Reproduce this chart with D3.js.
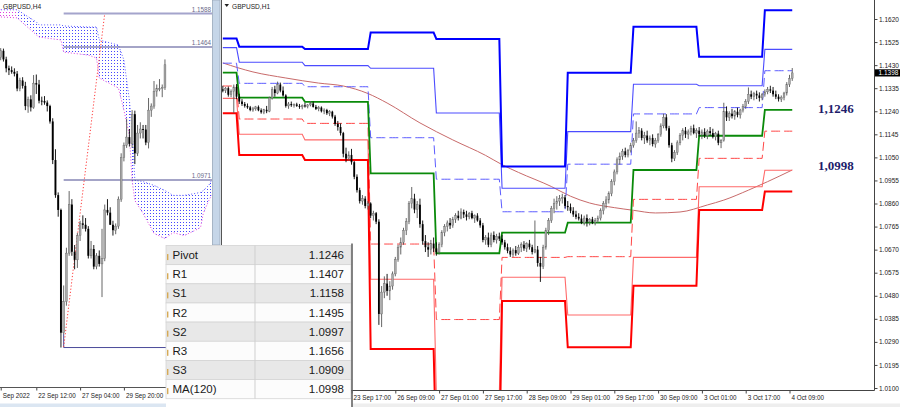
<!DOCTYPE html>
<html><head><meta charset="utf-8">
<script src="https://cdn.jsdelivr.net/npm/d3@7"></script>
<style>
html,body{margin:0;padding:0;background:#fff;}
svg{display:block;font-family:"Liberation Sans",Arial,sans-serif;}
</style></head><body>
<svg id="c" width="900" height="407"></svg>
<script>
// ---------------- DATA ----------------
// H1 candles, bar index -47 .. 161 (bar 0 = 23 Sep 17:00)
const h1Start = -47;
const h1Open = [1.1330,1.1325,1.1335,1.1308,1.1322,1.1340,1.1300,1.1280,1.1270,1.1262,1.1256,1.1245,1.1250,1.1258,1.1244,1.1236,1.1246,1.1240,1.1295,1.1330,1.1315,1.1350,1.1325,1.1305,1.1262,1.1270,1.1265,1.1268,1.1262,1.1258,1.1264,1.1260,1.1266,1.1272,1.1258,1.1250,1.1255,1.1240,1.1245,1.1232,1.1238,1.1218,1.1188,1.1175,1.1150,1.1065,1.1045,1.1060,1.1030,1.0970,1.0915,1.0870,1.0880,1.0850,1.0860,1.0810,1.0820,1.0785,1.0405,1.0495,1.0530,1.0500,1.0520,1.0570,1.0630,1.0680,1.0700,1.0750,1.0785,1.0860,1.0880,1.0835,1.0855,1.0775,1.0705,1.0680,1.0670,1.0695,1.0675,1.0660,1.0690,1.0740,1.0765,1.0780,1.0770,1.0795,1.0810,1.0800,1.0825,1.0815,1.0805,1.0820,1.0800,1.0810,1.0790,1.0770,1.0710,1.0720,1.0690,1.0730,1.0710,1.0725,1.0715,1.0700,1.0680,1.0665,1.0650,1.0668,1.0655,1.0680,1.0690,1.0675,1.0695,1.0680,1.0660,1.0670,1.0615,1.0600,1.0680,1.0750,1.0790,1.0840,1.0860,1.0870,1.0880,1.0885,1.0850,1.0845,1.0830,1.0815,1.0805,1.0798,1.0780,1.0800,1.0785,1.0795,1.0782,1.0790,1.0800,1.0830,1.0860,1.0875,1.0900,1.0950,1.0990,1.1040,1.1055,1.1075,1.1060,1.1078,1.1100,1.1120,1.1150,1.1160,1.1130,1.1140,1.1120,1.1130,1.1105,1.1120,1.1145,1.1180,1.1215,1.1170,1.1100,1.1045,1.1070,1.1110,1.1140,1.1160,1.1145,1.1155,1.1170,1.1150,1.1160,1.1145,1.1155,1.1140,1.1158,1.1150,1.1135,1.1148,1.1110,1.1120,1.1240,1.1215,1.1230,1.1220,1.1238,1.1225,1.1245,1.1260,1.1280,1.1310,1.1300,1.1312,1.1305,1.1295,1.1310,1.1320,1.1330,1.1325,1.1310,1.1300,1.1290,1.1298,1.1315,1.1350,1.1375];
const h1High = [1.1345,1.1340,1.1342,1.1330,1.1350,1.1352,1.1312,1.1290,1.1278,1.1272,1.1262,1.1258,1.1262,1.1264,1.1252,1.1250,1.1262,1.1300,1.1340,1.1345,1.1362,1.1358,1.1342,1.1310,1.1278,1.1280,1.1272,1.1275,1.1270,1.1268,1.1275,1.1270,1.1282,1.1280,1.1266,1.1262,1.1260,1.1252,1.1250,1.1245,1.1242,1.1225,1.1200,1.1190,1.1155,1.1090,1.1075,1.1085,1.1035,1.0980,1.0925,1.0895,1.0890,1.0870,1.0865,1.0830,1.0825,1.0795,1.0520,1.0560,1.0570,1.0540,1.0580,1.0640,1.0690,1.0720,1.0760,1.0800,1.0870,1.0928,1.0900,1.0870,1.0880,1.0790,1.0730,1.0700,1.0710,1.0720,1.0700,1.0700,1.0750,1.0775,1.0790,1.0800,1.0805,1.0820,1.0830,1.0840,1.0835,1.0830,1.0825,1.0830,1.0815,1.0820,1.0800,1.0780,1.0730,1.0740,1.0740,1.0745,1.0735,1.0740,1.0730,1.0710,1.0695,1.0680,1.0675,1.0685,1.0690,1.0700,1.0705,1.0700,1.0710,1.0690,1.0790,1.0685,1.0640,1.0690,1.0760,1.0800,1.0850,1.0880,1.0890,1.0895,1.0900,1.0895,1.0870,1.0860,1.0845,1.0830,1.0820,1.0815,1.0810,1.0815,1.0800,1.0805,1.0800,1.0810,1.0840,1.0870,1.0890,1.0910,1.0960,1.1000,1.1050,1.1070,1.1085,1.1090,1.1085,1.1110,1.1130,1.1198,1.1175,1.1170,1.1155,1.1160,1.1140,1.1145,1.1130,1.1150,1.1190,1.1230,1.1228,1.1180,1.1110,1.1080,1.1120,1.1150,1.1170,1.1175,1.1165,1.1180,1.1185,1.1170,1.1175,1.1165,1.1170,1.1165,1.1175,1.1168,1.1155,1.1160,1.1125,1.1275,1.1260,1.1240,1.1250,1.1245,1.1255,1.1250,1.1270,1.1290,1.1338,1.1325,1.1320,1.1325,1.1318,1.1315,1.1330,1.1340,1.1345,1.1340,1.1325,1.1310,1.1305,1.1320,1.1360,1.1390,1.1418];
const h1Low = [1.1318,1.1315,1.1300,1.1298,1.1233,1.1290,1.1270,1.1262,1.1255,1.1250,1.1240,1.1238,1.1242,1.1240,1.1230,1.1228,1.1232,1.1236,1.1288,1.1300,1.1310,1.1318,1.1300,1.1255,1.1250,1.1258,1.1255,1.1258,1.1250,1.1248,1.1255,1.1252,1.1260,1.1255,1.1245,1.1240,1.1235,1.1228,1.1225,1.1220,1.1210,1.1180,1.1160,1.1140,1.1050,1.1030,1.1035,1.1020,1.0960,1.0905,1.0860,1.0855,1.0840,1.0835,1.0800,1.0790,1.0775,1.0360,1.0351,1.0470,1.0480,1.0462,1.0505,1.0560,1.0620,1.0650,1.0690,1.0730,1.0775,1.0840,1.0820,1.0800,1.0760,1.0690,1.0660,1.0640,1.0650,1.0660,1.0645,1.0650,1.0680,1.0725,1.0745,1.0755,1.0760,1.0780,1.0790,1.0795,1.0800,1.0790,1.0795,1.0795,1.0780,1.0785,1.0760,1.0700,1.0690,1.0680,1.0680,1.0700,1.0695,1.0705,1.0690,1.0670,1.0655,1.0640,1.0640,1.0645,1.0648,1.0660,1.0665,1.0660,1.0670,1.0650,1.0655,1.0600,1.0537,1.0590,1.0670,1.0730,1.0780,1.0820,1.0835,1.0850,1.0860,1.0840,1.0830,1.0820,1.0805,1.0795,1.0790,1.0775,1.0770,1.0765,1.0770,1.0775,1.0770,1.0780,1.0790,1.0815,1.0840,1.0860,1.0890,1.0935,1.0980,1.1020,1.1040,1.1050,1.1050,1.1070,1.1090,1.1110,1.1130,1.1120,1.1105,1.1110,1.1100,1.1095,1.1090,1.1110,1.1135,1.1170,1.1160,1.1090,1.1030,1.1035,1.1060,1.1100,1.1120,1.1130,1.1125,1.1140,1.1145,1.1130,1.1135,1.1125,1.1130,1.1125,1.1140,1.1128,1.1120,1.1100,1.1088,1.1115,1.1200,1.1200,1.1210,1.1205,1.1215,1.1210,1.1235,1.1250,1.1270,1.1290,1.1285,1.1290,1.1280,1.1285,1.1300,1.1310,1.1315,1.1300,1.1290,1.1280,1.1278,1.1285,1.1305,1.1340,1.1365];
const h1Close = [1.1325,1.1335,1.1308,1.1322,1.1340,1.1300,1.1280,1.1270,1.1262,1.1256,1.1245,1.1250,1.1258,1.1244,1.1236,1.1246,1.1240,1.1295,1.1330,1.1315,1.1350,1.1325,1.1305,1.1262,1.1270,1.1265,1.1268,1.1262,1.1258,1.1264,1.1260,1.1266,1.1272,1.1258,1.1250,1.1255,1.1240,1.1245,1.1232,1.1238,1.1218,1.1188,1.1175,1.1150,1.1065,1.1045,1.1060,1.1030,1.0970,1.0915,1.0870,1.0880,1.0850,1.0860,1.0810,1.0820,1.0785,1.0405,1.0495,1.0530,1.0500,1.0520,1.0570,1.0630,1.0680,1.0700,1.0750,1.0785,1.0860,1.0880,1.0835,1.0855,1.0775,1.0705,1.0680,1.0670,1.0695,1.0675,1.0660,1.0690,1.0740,1.0765,1.0780,1.0770,1.0795,1.0810,1.0800,1.0825,1.0815,1.0805,1.0820,1.0800,1.0810,1.0790,1.0770,1.0710,1.0720,1.0690,1.0730,1.0710,1.0725,1.0715,1.0700,1.0680,1.0665,1.0650,1.0668,1.0655,1.0680,1.0690,1.0675,1.0695,1.0680,1.0660,1.0670,1.0615,1.0600,1.0680,1.0750,1.0790,1.0840,1.0860,1.0870,1.0880,1.0885,1.0850,1.0845,1.0830,1.0815,1.0805,1.0798,1.0780,1.0800,1.0785,1.0795,1.0782,1.0790,1.0800,1.0830,1.0860,1.0875,1.0900,1.0950,1.0990,1.1040,1.1055,1.1075,1.1060,1.1078,1.1100,1.1120,1.1150,1.1160,1.1130,1.1140,1.1120,1.1130,1.1105,1.1120,1.1145,1.1180,1.1215,1.1170,1.1100,1.1045,1.1070,1.1110,1.1140,1.1160,1.1145,1.1155,1.1170,1.1150,1.1160,1.1145,1.1155,1.1140,1.1158,1.1150,1.1135,1.1148,1.1110,1.1120,1.1240,1.1215,1.1230,1.1220,1.1238,1.1225,1.1245,1.1260,1.1280,1.1310,1.1300,1.1312,1.1305,1.1295,1.1310,1.1320,1.1330,1.1325,1.1310,1.1300,1.1290,1.1298,1.1315,1.1350,1.1375,1.1398];

// Daily pivot levels (day start bar index on H1)
const dayStart = [-47,-41,-17,7,31,55,79,103,127,151];
const pivR3 = [1.1540,1.1506,1.1496,1.1564,1.1538,1.1012,1.1399,1.1588,1.1464,1.1656];
const pivR2 = [1.1502,1.1442,1.1428,1.1417,1.1233,1.0923,1.1156,1.1351,1.1345,1.1495];
const pivR1 = [1.1438,1.1355,1.1341,1.1131,1.0960,1.0826,1.1022,1.1229,1.1255,1.1407];
const pivP  = [1.1399,1.1296,1.1279,1.0984,1.0655,1.0740,1.0781,1.0998,1.1139,1.1246];
const pivS1 = [1.1344,1.1208,1.1190,1.0693,1.0382,1.0638,1.0641,1.0877,1.1046,1.1158];
const pivS2 = [1.1293,1.1145,1.1122,1.0548,1.0077,1.0556,1.0401,1.0638,1.0929,1.0997];
const pivS3 = [1.1232,1.1060,1.1039,1.0261,0.9804,1.0458,1.0268,1.0521,1.0833,1.0909];

// MA(120) on H1 (sampled bars)
const maIdx = [-47,-36,-24,-12,-3,6,13,25,37,49,55,61,73,80,87,96,103,111,120,130,136,145,152,161];
const maVal = [1.1439,1.1402,1.1377,1.1356,1.1344,1.1313,1.1274,1.1192,1.1122,1.1058,1.1020,1.0988,1.0930,1.0890,1.0862,1.0843,1.0832,1.0821,1.0825,1.0854,1.0874,1.0915,1.0950,1.0998];

// H1 axes
const h1TickIdx = [-32,-16,0,16,32,48,64,80,96,112,128,144,160];
const h1TickLabels = ["22 Sep 09:00","23 Sep 01:00","23 Sep 17:00","26 Sep 09:00","27 Sep 01:00","27 Sep 17:00","28 Sep 09:00","29 Sep 01:00","29 Sep 17:00","30 Sep 09:00","3 Oct 01:00","3 Oct 17:00","4 Oct 09:00"];
const priceTicks = [1.0100,1.0195,1.0290,1.0385,1.0480,1.0575,1.0670,1.0765,1.0860,1.0955,1.1050,1.1145,1.1240,1.1335,1.1430,1.1525,1.1620];
const lastPrice = 1.1398;
const annotations = ["1,1246","1,0998"];
const annotPrice = [1.1246,1.0998];

// H4 candles, bar index -13 .. 47 (bar 0 = 22 Sep 12:00)
const h4Start = -13;
const h4Open = [1.1425,1.1450,1.1418,1.1385,1.1378,1.1372,1.1365,1.1310,1.1340,1.1320,1.1245,1.1270,1.1240,1.1330,1.1325,1.1265,1.1264,1.1258,1.1245,1.1188,1.1045,1.0915,1.0860,1.0405,1.0520,1.0700,1.0880,1.0705,1.0675,1.0765,1.0810,1.0805,1.0790,1.0690,1.0715,1.0650,1.0690,1.0660,1.0680,1.0860,1.0850,1.0805,1.0785,1.0800,1.0900,1.1055,1.1100,1.1130,1.1105,1.1215,1.1070,1.1145,1.1160,1.1158,1.1110,1.1230,1.1245,1.1300,1.1310,1.1310,1.1315];
const h4High = [1.1460,1.1458,1.1428,1.1395,1.1392,1.1385,1.1375,1.1350,1.1352,1.1335,1.1280,1.1285,1.1360,1.1362,1.1342,1.1280,1.1282,1.1266,1.1250,1.1200,1.1085,1.0925,1.0865,1.0580,1.0720,1.0930,1.0900,1.0730,1.0775,1.0820,1.0840,1.0830,1.0800,1.0745,1.0730,1.0700,1.0710,1.0790,1.0880,1.0900,1.0870,1.0820,1.0810,1.0910,1.1070,1.1110,1.1198,1.1160,1.1230,1.1228,1.1175,1.1185,1.1175,1.1175,1.1275,1.1255,1.1338,1.1325,1.1345,1.1325,1.1418];
const h4Low = [1.1415,1.1410,1.1370,1.1360,1.1365,1.1355,1.1300,1.1300,1.1310,1.1230,1.1220,1.1225,1.1235,1.1290,1.1255,1.1248,1.1250,1.1225,1.1180,1.1030,1.0905,1.0835,1.0350,1.0400,1.0505,1.0690,1.0690,1.0640,1.0645,1.0745,1.0790,1.0780,1.0680,1.0680,1.0640,1.0640,1.0650,1.0537,1.0670,1.0840,1.0805,1.0765,1.0770,1.0790,1.0890,1.1040,1.1090,1.1095,1.1090,1.1030,1.1060,1.1125,1.1125,1.1100,1.1088,1.1205,1.1235,1.1280,1.1300,1.1278,1.1305];
const h4Close = [1.1450,1.1418,1.1385,1.1378,1.1372,1.1365,1.1310,1.1340,1.1320,1.1245,1.1270,1.1240,1.1330,1.1325,1.1265,1.1264,1.1258,1.1245,1.1188,1.1045,1.0915,1.0860,1.0405,1.0520,1.0700,1.0880,1.0705,1.0675,1.0765,1.0810,1.0805,1.0790,1.0690,1.0715,1.0650,1.0690,1.0660,1.0680,1.0860,1.0850,1.0805,1.0785,1.0800,1.0900,1.1055,1.1100,1.1130,1.1105,1.1215,1.1070,1.1145,1.1160,1.1158,1.1110,1.1230,1.1245,1.1300,1.1310,1.1310,1.1315,1.1398];

// Ichimoku cloud (H4), sampled bars
const cloudJ   = [-14,-7,0,1,9,10,19,22,23,30,32,34,35,36,39,43,47,50,54,58,60,61,63,64];
const cloudTop = [1.1602,1.1602,1.1557,1.1546,1.1546,1.1542,1.1538,1.1538,1.1490,1.1471,1.1416,1.1267,1.1155,1.0970,1.0965,1.0951,1.0932,1.0914,1.0914,1.0921,1.0925,1.0932,1.0951,1.0970];
const cloudBot = [1.1576,1.1572,1.1509,1.1501,1.1490,1.1445,1.1434,1.1423,1.1349,1.1312,1.1230,1.1137,1.0970,1.0895,1.0847,1.0773,1.0754,1.0776,1.0765,1.0784,1.0795,1.0847,1.0895,1.0914];
const cloudMagentaUntilJ = -7;

// H4 horizontal levels and trendline
const h4Levels = [1.1588,1.1464,1.0971,1.0350];
const h4LevelLabels = ["1.1588","1.1464","1.0971",""];
const levelStartJ = 10;
const trendJ = [10,25];
const trendP = [1.0352,1.1588];
const h4TickIdx = [-13,0,16,32];
const h4TickLabels = ["Sep 2022","22 Sep 12:00","27 Sep 04:00","29 Sep 20:00"];

// Table
const tableLabels = ["Pivot","R1","S1","R2","S2","R3","S3","MA(120)"];
const tableValues = ["1.1246","1.1407","1.1158","1.1495","1.0997","1.1656","1.0909","1.0998"];

// ---------------- DRAW ----------------
const svg = d3.select("#c");
const defs = svg.append("defs");
defs.append("clipPath").attr("id","clipR").append("rect").attr("x",221.5).attr("y",0).attr("width",652.5).attr("height",390);
defs.append("clipPath").attr("id","clipL").append("rect").attr("x",0).attr("y",0).attr("width",212).attr("height",387);
const pB = defs.append("pattern").attr("id","dotsB").attr("width",3).attr("height",3).attr("patternUnits","userSpaceOnUse");
pB.append("rect").attr("width",1).attr("height",1).attr("fill","#4646ff");
const pM = defs.append("pattern").attr("id","dotsM").attr("width",3).attr("height",3).attr("patternUnits","userSpaceOnUse");
pM.append("rect").attr("width",1).attr("height",1).attr("fill","#e040e0");

svg.append("rect").attr("width",900).attr("height",407).attr("fill","#fff");

const xR = d3.scaleLinear().domain([0,16]).range([351.5,395.3]);
const yR = d3.scaleLinear().domain([1.0100,1.1620]).range([388,19]);
const xL = d3.scaleLinear().domain([0,16]).range([36.3,80.1]);
const yL = d3.scaleLinear().domain([1.0971,1.1464]).range([180,47]);

function drawCandles(g, O, H, L, C, start, x, y, bw){
  const data = O.map((o,k)=>({i:start+k,o:o,h:H[k],l:L[k],c:C[k]}));
  const sel = g.append("g").selectAll("g").data(data).join("g");
  sel.append("line").attr("x1",d=>x(d.i)).attr("x2",d=>x(d.i))
    .attr("y1",d=>y(d.h)).attr("y2",d=>y(d.l))
    .attr("stroke",d=>d.c>=d.o?"#555":"#000").attr("stroke-width",0.9);
  sel.append("rect").attr("x",d=>x(d.i)-bw/2).attr("width",bw)
    .attr("y",d=>y(Math.max(d.o,d.c)))
    .attr("height",d=>Math.max(0.9,Math.abs(y(d.o)-y(d.c))))
    .attr("fill",d=>d.c>=d.o?"#a9a9a9":"#000")
    .attr("stroke",d=>d.c>=d.o?"#666":"none").attr("stroke-width",0.4);
}

// ---- Left panel (H4) ----
const gL = svg.append("g").attr("clip-path","url(#clipL)");
const cloud = cloudJ.map((j,k)=>({j:j,t:cloudTop[k],b:cloudBot[k]}));
const cloudArea = d3.area().x(d=>xL(d.j)).y0(d=>yL(d.b)).y1(d=>yL(d.t));
gL.append("path").datum(cloud.filter(d=>d.j<=cloudMagentaUntilJ)).attr("d",cloudArea).attr("fill","url(#dotsM)");
gL.append("path").datum(cloud.filter(d=>d.j>=cloudMagentaUntilJ)).attr("d",cloudArea).attr("fill","url(#dotsB)");
gL.append("path").datum(cloud).attr("d",d3.line().x(d=>xL(d.j)).y(d=>yL(d.t)))
  .attr("fill","none").attr("stroke","#5a5aff").attr("stroke-width",1).attr("stroke-dasharray","1,2");
gL.append("path").datum(cloud).attr("d",d3.line().x(d=>xL(d.j)).y(d=>yL(d.b)))
  .attr("fill","none").attr("stroke","#e040e0").attr("stroke-width",1).attr("stroke-dasharray","1,2");

h4Levels.forEach((p,k)=>{
  const yy = yL(p);
  if(k===3){
    gL.append("path").attr("d",`M${xL(levelStartJ)},${yL(1.0400)}V${yy}H212`)
      .attr("fill","none").attr("stroke","#4b4b99").attr("stroke-width",1);
  } else {
    gL.append("line").attr("x1",xL(levelStartJ)).attr("x2",212).attr("y1",yy).attr("y2",yy)
      .attr("stroke",k===0?"#a4a4cc":"#4b4b8f").attr("stroke-width",k===0?2:1.2);
    gL.append("text").attr("x",211).attr("y",yy-1.8).attr("text-anchor","end")
      .attr("font-size",6.3).attr("fill","#6a6a8a").text(h4LevelLabels[k]);
  }
});
gL.append("line").attr("x1",xL(trendJ[0])).attr("y1",yL(trendP[0])).attr("x2",xL(trendJ[1])).attr("y2",yL(trendP[1]))
  .attr("stroke","#ff3a3a").attr("stroke-width",1).attr("stroke-dasharray","1.2,2");

drawCandles(gL, h4Open, h4High, h4Low, h4Close, h4Start, xL, yL, 1.9);

svg.append("text").attr("x",3).attr("y",8.5).attr("font-size",6.6).attr("fill","#222").text("GBPUSD,H4");

// left x axis
const axL = svg.append("g").attr("transform","translate(0,387.5)")
  .call(d3.axisBottom(xL).tickValues(h4TickIdx).tickFormat((d,k)=>h4TickLabels[k]).tickSize(3).tickSizeOuter(0));
axL.select(".domain").remove();
axL.selectAll("text").attr("text-anchor","start").attr("dx","1.5").attr("y",6).attr("font-size",6.3).attr("fill","#222")
  .attr("font-family","Liberation Sans, Arial, sans-serif");
axL.selectAll("line").attr("stroke","#444");
svg.append("line").attr("x1",0).attr("x2",166).attr("y1",387.5).attr("y2",387.5).attr("stroke","#555");
svg.append("rect").attr("x",0).attr("y",403.5).attr("width",166).attr("height",4).attr("fill","#dbe6f2");

// separator
svg.append("rect").attr("x",212.5).attr("y",0).attr("width",7.5).attr("height",245).attr("fill","#c6d6e8").attr("stroke","#98a8ba").attr("stroke-width",0.8);

// ---- Right panel (H1) ----
const gR = svg.append("g").attr("clip-path","url(#clipR)");
const bars = d3.range(h1Start, h1Start + h1Close.length);
const lvl = arr => bars.map(i=>({i:i,v:arr[d3.bisectRight(dayStart,i)-1]}));
const lineR = d3.line().x(d=>xR(d.i)).y(d=>yR(d.v));

const maData = maIdx.map((i,k)=>({i:i,v:maVal[k]}));
gR.append("path").datum(maData).attr("d",d3.line().x(d=>xR(d.i)).y(d=>yR(d.v)).curve(d3.curveMonotoneX))
  .attr("fill","none").attr("stroke","#c86a6a").attr("stroke-width",1);

const pivStyles = [
  {a:pivS2,c:"#ff6a6a",w:1.1,d:null},
  {a:pivS1,c:"#ff4646",w:1,d:"9,4"},
  {a:pivS3,c:"#ff0000",w:2,d:null},
  {a:pivR2,c:"#4c4cff",w:1.1,d:null},
  {a:pivR1,c:"#5c5cff",w:1,d:"9,4"},
  {a:pivR3,c:"#0000ff",w:2,d:null},
  {a:pivP, c:"#0a8a0a",w:1.8,d:null}
];
pivStyles.forEach(s=>{
  gR.append("path").datum(lvl(s.a)).attr("d",lineR).attr("fill","none")
    .attr("stroke",s.c).attr("stroke-width",s.w).attr("stroke-dasharray",s.d);
});

drawCandles(gR, h1Open, h1High, h1Low, h1Close, h1Start, xR, yR, 1.8);

// panel borders
svg.append("line").attr("x1",221.5).attr("x2",221.5).attr("y1",0).attr("y2",390).attr("stroke","#555");
svg.append("line").attr("x1",874.5).attr("x2",874.5).attr("y1",0).attr("y2",390.5).attr("stroke","#444");
svg.append("line").attr("x1",221.5).attr("x2",874.5).attr("y1",390.5).attr("y2",390.5).attr("stroke","#444");

// title
svg.append("path").attr("d","M224.5,4H229L226.75,7Z").attr("fill","#222");
svg.append("text").attr("x",232).attr("y",8.5).attr("font-size",6.6).attr("fill","#222").text("GBPUSD,H1");

// right price axis
const axY = svg.append("g").attr("transform","translate(874.5,0)")
  .call(d3.axisRight(yR).tickValues(priceTicks).tickFormat(d3.format(".4f")).tickSize(3).tickSizeOuter(0));
axY.select(".domain").remove();
axY.selectAll("text").attr("x",4.5).attr("font-size",6.5).attr("fill","#222").attr("font-family","Liberation Sans, Arial, sans-serif");
axY.selectAll("line").attr("stroke","#444");

svg.append("rect").attr("x",875).attr("y",yR(lastPrice)-3.6).attr("width",25).attr("height",7.2).attr("fill","#000");
svg.append("text").attr("x",878.5).attr("y",yR(lastPrice)+2.3).attr("font-size",6.5).attr("fill","#fff").text(d3.format(".4f")(lastPrice));

// right time axis
const axX = svg.append("g").attr("transform","translate(0,390.5)")
  .call(d3.axisBottom(xR).tickValues(h1TickIdx).tickFormat((d,k)=>h1TickLabels[k]).tickSize(3).tickSizeOuter(0));
axX.select(".domain").remove();
axX.selectAll("text").attr("text-anchor","start").attr("dx","1.5").attr("y",5.5).attr("font-size",6.3).attr("fill","#222")
  .attr("font-family","Liberation Sans, Arial, sans-serif");
axX.selectAll("line").attr("stroke","#444");
svg.append("rect").attr("x",352).attr("y",403.5).attr("width",548).attr("height",4).attr("fill","#eeeeee");

// annotations
const annotDy = [3.6,0.3];
annotations.forEach((t,k)=>{
  svg.append("text").attr("x",818).attr("y",yR(annotPrice[k])+annotDy[k])
    .attr("font-family","Liberation Serif, 'Times New Roman', serif").attr("font-weight","bold")
    .attr("font-size",13).attr("fill","#1d1d6b").text(t);
});

// ---- Table ----
const tY0 = 245.5, rowH = 19.15, tX0 = 166, tX1 = 351, colX = 255;
const tg = svg.append("g");
tg.append("rect").attr("x",tX0).attr("y",tY0).attr("width",tX1-tX0).attr("height",407-tY0).attr("fill","#fff");
tableLabels.forEach((lab,r)=>{
  const y0 = tY0 + r*rowH;
  tg.append("rect").attr("x",tX0).attr("y",y0).attr("width",tX1-tX0).attr("height",rowH)
    .attr("fill",r%2===0?"#e8e8e8":"#fcfcfc").attr("stroke","#d4d4d4").attr("stroke-width",0.8);
  tg.append("rect").attr("x",tX0+1).attr("y",y0+rowH/2-1).attr("width",1.4).attr("height",6).attr("fill","#d6aa55");
  tg.append("text").attr("x",172.5).attr("y",y0+rowH/2+4.1).attr("font-size",11.5).attr("fill","#1a1a1a").text(lab);
  tg.append("text").attr("x",344).attr("y",y0+rowH/2+4.1).attr("text-anchor","end").attr("font-size",11.5).attr("fill","#1a1a1a").text(tableValues[r]);
});
tg.append("line").attr("x1",colX).attr("x2",colX).attr("y1",tY0).attr("y2",tY0+8*rowH).attr("stroke","#cfcfcf");
tg.append("line").attr("x1",352).attr("x2",352).attr("y1",tY0-2).attr("y2",407).attr("stroke","#5a5a5a").attr("stroke-width",1.5);
</script>
</body></html>
